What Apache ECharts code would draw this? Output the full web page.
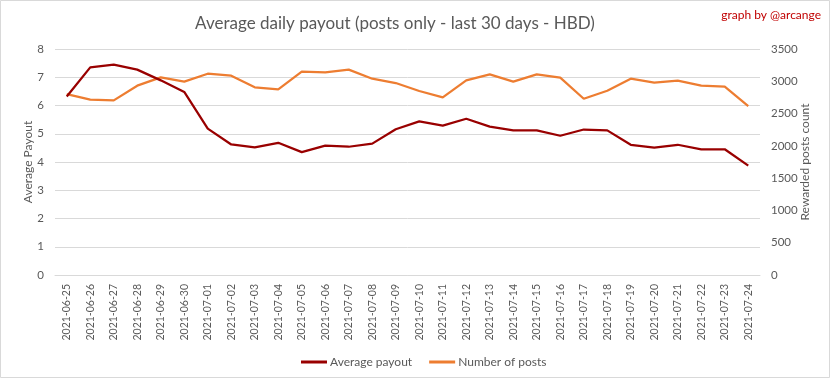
<!DOCTYPE html>
<html>
<head>
<meta charset="utf-8">
<script src="https://cdn.jsdelivr.net/npm/echarts@6/dist/echarts.min.js"></script>
<style>
html,body{margin:0;padding:0;background:#fff;}
#chart{width:833px;height:379px;}
</style>
</head>
<body>
<div id="chart"></div>
<script>
const dates = ["2021-06-25","2021-06-26","2021-06-27","2021-06-28","2021-06-29","2021-06-30","2021-07-01","2021-07-02","2021-07-03","2021-07-04","2021-07-05","2021-07-06","2021-07-07","2021-07-08","2021-07-09","2021-07-10","2021-07-11","2021-07-12","2021-07-13","2021-07-14","2021-07-15","2021-07-16","2021-07-17","2021-07-18","2021-07-19","2021-07-20","2021-07-21","2021-07-22","2021-07-23","2021-07-24"];
const averagePayout = [6.32,7.35,7.45,7.27,6.89,6.48,5.18,4.62,4.52,4.68,4.35,4.58,4.54,4.65,5.16,5.44,5.29,5.53,5.25,5.12,5.12,4.93,5.15,5.12,4.61,4.51,4.61,4.45,4.45,3.87];
const numberOfPosts = [2800,2715,2704,2932,3060,2994,3117,3087,2906,2875,3149,3138,3180,3040,2973,2850,2751,3014,3107,2994,3107,3056,2730,2854,3040,2978,3009,2932,2916,2617];
const leftTicks = {min:0, max:8, interval:1};
const rightTicks = {min:0, max:3500, interval:500};

const FONT = 'Lato';
const GREY = '#595959';
const chart = echarts.init(document.getElementById('chart'), null, {renderer:'canvas'});
chart.setOption({
  animation:false,
  backgroundColor:'#fff',
  textStyle:{fontFamily:FONT},
  graphic:[
    {type:'rect', shape:{x:0.5,y:0.5,width:829,height:377}, style:{fill:'none', stroke:'#d9d9d9', lineWidth:1}, silent:true},
    {type:'text', style:{text:'Average daily payout (posts only - last 30 days - HBD)', x:395, y:24, textAlign:'center', textVerticalAlign:'middle', fill:GREY, font:'17px Lato'}},
    {type:'text', style:{text:'graph by @arcange', x:821, y:15, textAlign:'right', textVerticalAlign:'middle', fill:'#C00000', font:'12px Lato'}}
  ],
  legend:{
    left:296, top:351,
    itemWidth:26, itemHeight:3, itemGap:17,
    icon:'rect',
    textStyle:{color:GREY, fontSize:12, fontFamily:FONT, padding:[0,0,0,-2]},
    data:['Average payout','Number of posts']
  },
  grid:{left:55, right:73, top:49, bottom:104, containLabel:false},
  xAxis:{
    type:'category', data:dates, boundaryGap:true,
    axisLine:{show:true, lineStyle:{color:'#d9d9d9'}},
    axisTick:{show:false},
    axisLabel:{rotate:90, color:GREY, fontSize:10.5, fontFamily:FONT, margin:9, interval:0}
  },
  yAxis:[
    {type:'value', min:leftTicks.min, max:leftTicks.max, interval:leftTicks.interval,
     name:'Average Payout', nameLocation:'middle', nameGap:21, nameMoveOverlap:false,
     nameTextStyle:{color:GREY, fontSize:12, fontFamily:FONT},
     axisLine:{show:false}, axisTick:{show:false},
     axisLabel:{color:GREY, fontSize:11.5, fontFamily:FONT, margin:11},
     splitLine:{lineStyle:{color:'#d9d9d9', width:1}}},
    {type:'value', min:rightTicks.min, max:rightTicks.max, interval:rightTicks.interval,
     name:'Rewarded posts count', nameLocation:'middle', nameGap:39, nameMoveOverlap:false,
     nameTextStyle:{color:GREY, fontSize:12, fontFamily:FONT},
     axisLine:{show:false}, axisTick:{show:false},
     axisLabel:{color:GREY, fontSize:11.5, fontFamily:FONT, margin:11, formatter:function(v){return String(v);}},
     splitLine:{show:false}}
  ],
  series:[
    {name:'Average payout', type:'line', yAxisIndex:0, data:averagePayout, symbol:'none',
     lineStyle:{color:'#990000', width:2.25}, itemStyle:{color:'#990000'}, z:3},
    {name:'Number of posts', type:'line', yAxisIndex:1, data:numberOfPosts, symbol:'none',
     lineStyle:{color:'#ED7D31', width:2.25}, itemStyle:{color:'#ED7D31'}, z:2}
  ]
});
</script>
</body>
</html>
